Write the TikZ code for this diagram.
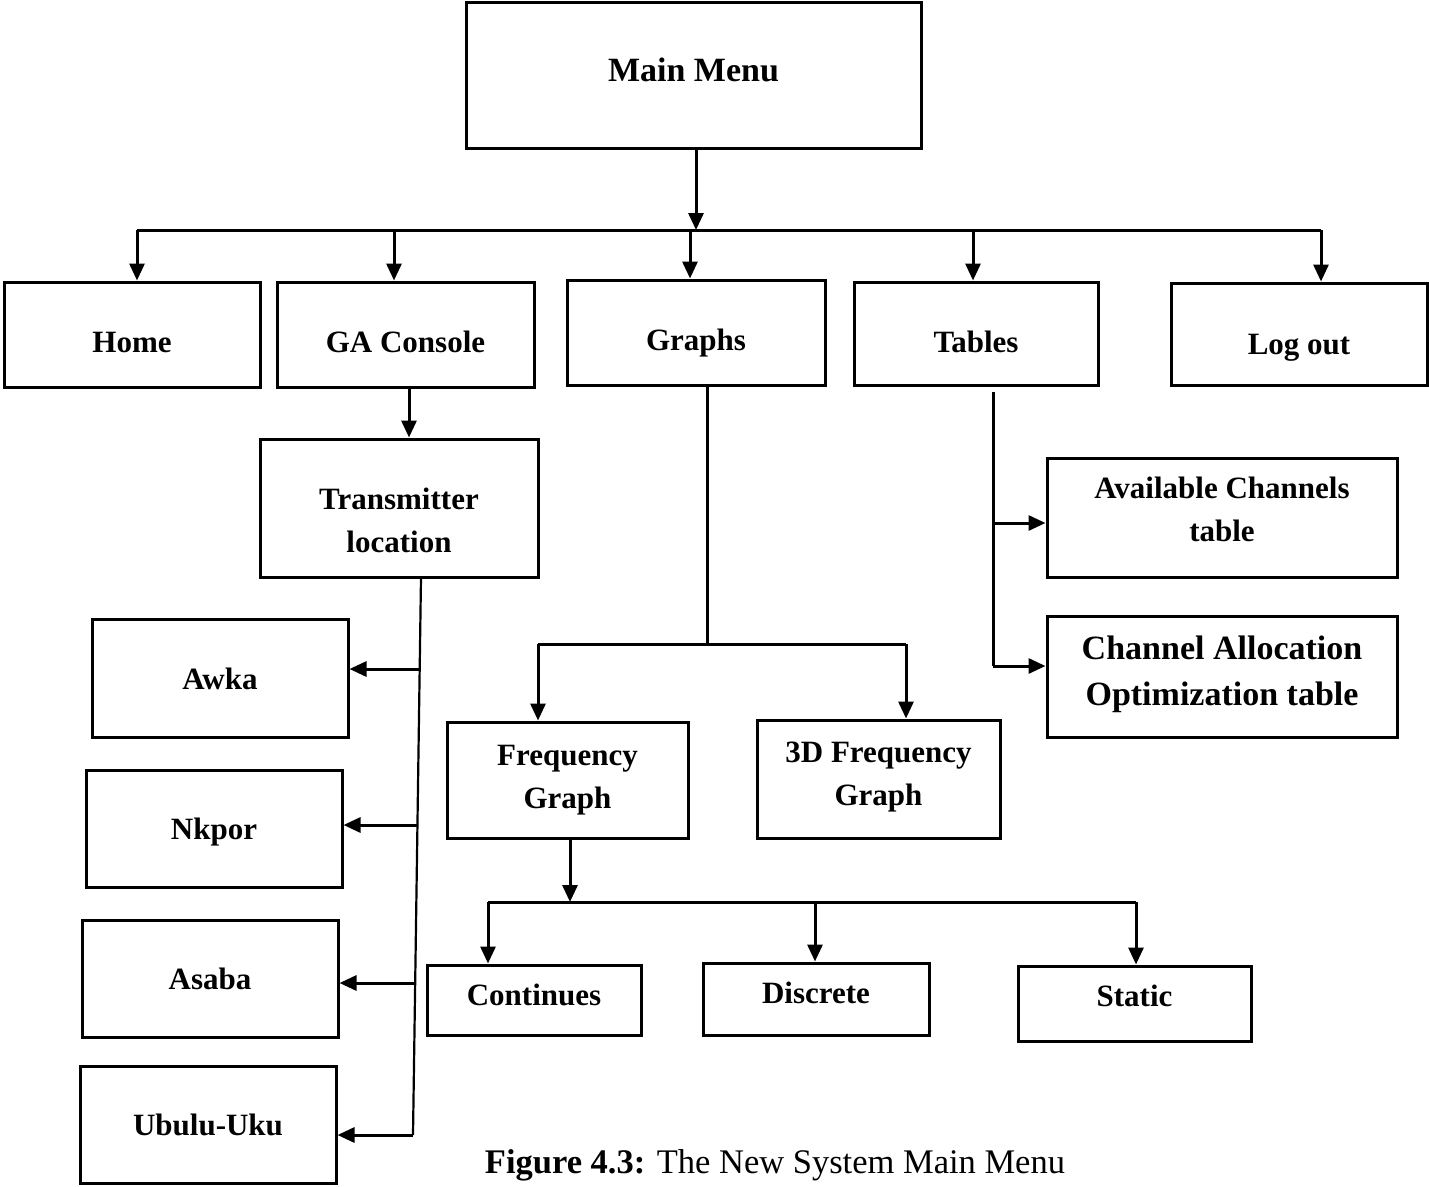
\documentclass[tikz,border=0pt]{standalone}
\usepackage{fontspec}
\setmainfont{Liberation Serif}
\usetikzlibrary{arrows.meta}
\tikzset{
  box/.style={draw, line width=3pt, inner sep=0pt},
  txt/.style={inner sep=0pt, align=center, font=\bfseries\fontsize{31}{43}\selectfont},
  bigtxt/.style={txt, font=\bfseries\fontsize{34}{46}\selectfont},
  conn/.style={line width=3pt},
  arr/.style={conn, -{Triangle[length=17pt,width=15pt]}},
  slim/.style={line width=2.2pt}
}
\begin{document}
\begin{tikzpicture}[x=1pt,y=-1pt]
\useasboundingbox (0,0) rectangle (1429,1186);
% boxes
\node[box, minimum width=455pt, minimum height=146pt] (mm) at (693.5,75) {};
\node[box, minimum width=256pt, minimum height=105pt] (home) at (132,334.5) {};
\node[box, minimum width=257pt, minimum height=105pt] (ga) at (405.5,334.5) {};
\node[box, minimum width=258pt, minimum height=105pt] (graphs) at (696,332.5) {};
\node[box, minimum width=244pt, minimum height=103pt] (tables) at (976,333.5) {};
\node[box, minimum width=256pt, minimum height=102pt] (logout) at (1299,334) {};
\node[box, minimum width=278pt, minimum height=138pt] (tl) at (399,508) {};
\node[box, minimum width=256pt, minimum height=118pt] (awka) at (220,678) {};
\node[box, minimum width=256pt, minimum height=117pt] (nkpor) at (214,828.5) {};
\node[box, minimum width=256pt, minimum height=117pt] (asaba) at (210,978.5) {};
\node[box, minimum width=256pt, minimum height=117pt] (ubulu) at (208,1124.5) {};
\node[box, minimum width=241pt, minimum height=116pt] (freq) at (567.5,780) {};
\node[box, minimum width=243pt, minimum height=118pt] (freqd) at (878.5,779) {};
\node[box, minimum width=214pt, minimum height=70pt] (cont) at (534,1000) {};
\node[box, minimum width=226pt, minimum height=72pt] (disc) at (816,999) {};
\node[box, minimum width=233pt, minimum height=75pt] (stat) at (1134.5,1003.5) {};
\node[box, minimum width=350pt, minimum height=119pt] (avail) at (1222,517.5) {};
\node[box, minimum width=350pt, minimum height=121pt] (alloc) at (1222,676.5) {};
% texts
\node[bigtxt] (mm-t) at (693.5,70) {Main Menu};
\node[txt] (home-t) at (132,342.5) {Home};
\node[txt] (ga-t) at (405.5,341.5) {GA Console};
\node[txt] (graphs-t) at (696,343.5) {Graphs};
\node[txt] (tables-t) at (976,341.5) {Tables};
\node[txt] (logout-t) at (1299,348) {Log out};
\node[txt] (tl-t) at (399,520) {Transmitter\\location};
\node[txt] (awka-t) at (220,679) {Awka};
\node[txt] (nkpor-t) at (214,832.5) {Nkpor};
\node[txt] (asaba-t) at (210,978.5) {Asaba};
\node[txt] (ubulu-t) at (208,1124.5) {Ubulu-Uku};
\node[txt] (freq-t) at (567.5,780) {Frequency\\Graph};
\node[txt] (freqd-t) at (878.5,777) {3D Frequency\\Graph};
\node[txt] (cont-t) at (534,995) {Continues};
\node[txt] (disc-t) at (816,993) {Discrete};
\node[txt] (stat-t) at (1134.5,995.5) {Static};
\node[txt] (avail-t) at (1222,509.5) {Available Channels\\table};
\node[bigtxt] (alloc-t) at (1222,674.5) {Channel Allocation\\Optimization table};
% caption
\node[inner sep=0pt, font=\fontsize{34.5}{40}\selectfont] (cap) at (775,1165) {\textbf{Figure 4.3:} The New System Main Menu};
% main bus
\coordinate (bus) at (696,230);
\coordinate (b1) at (137,230);
\coordinate (b2) at (394,230);
\coordinate (b3) at (690,230);
\coordinate (b4) at (973,230);
\coordinate (b5) at (1321,230);
\draw[arr] (mm.south -| bus) -- (bus);
\draw[conn] (b1) -- (b5);
\draw[arr] (b1) -- (b1 |- home.north);
\draw[arr] (b2) -- (b2 |- ga.north);
\draw[arr] (b3) -- (b3 |- graphs.north);
\draw[arr] (b4) -- (b4 |- tables.north);
\draw[arr] (b5) -- (b5 |- logout.north);
% GA console to transmitter
\coordinate (gx) at (409,0);
\draw[arr] (gx |- ga.south) -- (gx |- tl.north);
% transmitter slanted trunk
\coordinate (t0) at (421,577);
\coordinate (t4) at (413,1135);
\coordinate (t1) at (419.5,669);
\coordinate (t2) at (416.5,825);
\coordinate (t3) at (414.5,983);
\draw[slim] (t0) -- (t4);
\draw[arr] (t1) -- (t1 -| awka.east);
\draw[arr] (t2) -- (t2 -| nkpor.east);
\draw[arr] (t3) -- (t3 -| asaba.east);
\draw[arr] (t4) -- (t4 -| ubulu.east);
% graphs branch
\coordinate (gb) at (707,644);
\coordinate (gL) at (538,644);
\coordinate (gR) at (906,644);
\draw[conn] (gb |- graphs.south) -- (gb);
\draw[conn] (gL) -- (gR);
\draw[arr] (gL) -- (gL |- freq.north);
\draw[arr] (gR) -- (gR |- freqd.north);
% frequency graph branch
\coordinate (fq) at (570,902);
\coordinate (c1) at (488,902);
\coordinate (c2) at (815,902);
\coordinate (c3) at (1136,902);
\draw[arr] (fq |- freq.south) -- (fq);
\draw[conn] (c1) -- (c3);
\draw[arr] (c1) -- (c1 |- cont.north);
\draw[arr] (c2) -- (c2 |- disc.north);
\draw[arr] (c3) -- (c3 |- stat.north);
% tables branch
\coordinate (tt) at (993,392);
\coordinate (ta) at (993,523);
\coordinate (tb) at (993,666);
\draw[conn] (tt) -- (tb);
\draw[arr] (ta) -- (ta -| avail.west);
\draw[arr] (tb) -- (tb -| alloc.west);
\end{tikzpicture}
\end{document}
